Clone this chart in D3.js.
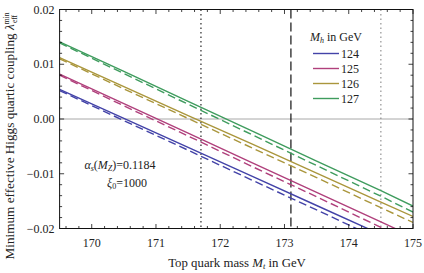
<!DOCTYPE html>
<html>
<head>
<meta charset="UTF-8">
<script src="https://d3js.org/d3.v7.min.js"></script>
<style>
  body { margin: 0; background: #fff; }
  text { font-family: "Liberation Serif", "DejaVu Serif", serif; font-size: 12px; fill: #222; }
  .title { font-size: 12.8px; }
</style>
</head>
<body>
<svg width="424" height="273"></svg>
<script>
// data
const mt = [169.5, 170.5, 171.5, 172.5, 173.5, 174.5, 175];
const higgsMasses = ["124", "125", "126", "127"];
const colors = ["#4343a8", "#b0407c", "#aa963c", "#3f9c5e"];
const solid = [
  [0.0054, 0.0001, -0.0052, -0.0105, -0.0158, -0.0211, -0.0238],
  [0.0082, 0.0028, -0.0026, -0.0080, -0.0134, -0.0188, -0.0215],
  [0.0112, 0.0059, 0.0006, -0.0046, -0.0099, -0.0152, -0.0178],
  [0.0141, 0.0087, 0.0032, -0.0022, -0.0077, -0.0131, -0.0159]
];
const dashed = [
  [0.0052, -0.0003, -0.0057, -0.0112, -0.0166, -0.0221, -0.0249],
  [0.0080, 0.0024, -0.0031, -0.0087, -0.0142, -0.0198, -0.0226],
  [0.0110, 0.0055, 0.0001, -0.0053, -0.0107, -0.0162, -0.0189],
  [0.0139, 0.0083, 0.0027, -0.0029, -0.0085, -0.0141, -0.0170]
];
const xTicks = [170, 171, 172, 173, 174, 175];
const yTicks = [0.02, 0.01, 0.00, -0.01, -0.02];
const vLines = [171.7, 173.1, 174.5];

const svg = d3.select("svg");
const pl = 59.6, pr = 413, pt = 9.5, pb = 228.5;

const x = d3.scaleLinear().domain([169.5, 175]).range([pl, pr]);
const y = d3.scaleLinear().domain([-0.02, 0.02]).range([pb, pt]);

const defs = svg.append("defs");
defs.append("clipPath").attr("id", "clip")
  .append("rect").attr("x", pl).attr("y", pt)
  .attr("width", pr - pl).attr("height", pb - pt);

const plot = svg.append("g").attr("clip-path", "url(#clip)");

// zero line
plot.append("line")
  .attr("x1", pl).attr("x2", pr)
  .attr("y1", y(0)).attr("y2", y(0))
  .attr("stroke", "#a8a8a8").attr("stroke-width", 1);

// vertical reference lines
plot.append("line")
  .attr("x1", x(vLines[0])).attr("x2", x(vLines[0]))
  .attr("y1", pt).attr("y2", pb)
  .attr("stroke", "#111").attr("stroke-width", 1.1)
  .attr("stroke-dasharray", "1.5,3");
plot.append("line")
  .attr("x1", x(vLines[1])).attr("x2", x(vLines[1]))
  .attr("y1", pt).attr("y2", pb)
  .attr("stroke", "#111").attr("stroke-width", 1.2)
  .attr("stroke-dasharray", "9,4");
plot.append("line")
  .attr("x1", x(vLines[2])).attr("x2", x(vLines[2]))
  .attr("y1", pt).attr("y2", pb)
  .attr("stroke", "#888").attr("stroke-width", 1.1)
  .attr("stroke-dasharray", "1.5,3");

const line = d3.line().x((d, i) => x(mt[i])).y(d => y(d));

higgsMasses.forEach((m, k) => {
  plot.append("path").datum(dashed[k])
    .attr("d", line).attr("fill", "none")
    .attr("stroke", colors[k]).attr("stroke-width", 1.4)
    .attr("stroke-dasharray", "8,4");
  plot.append("path").datum(solid[k])
    .attr("d", line).attr("fill", "none")
    .attr("stroke", colors[k]).attr("stroke-width", 1.4);
});

// frame
svg.append("rect")
  .attr("x", pl).attr("y", pt)
  .attr("width", pr - pl).attr("height", pb - pt)
  .attr("fill", "none").attr("stroke", "#111").attr("stroke-width", 1);

// ticks (inward, all four sides)
const xMinor = d3.range(169.6, 175.01, 0.2);
const yMinor = d3.range(-0.02, 0.02001, 0.002);
const tk = svg.append("g").attr("stroke", "#111").attr("stroke-width", 0.8);
xMinor.forEach(v => {
  const major = Math.abs(v - Math.round(v)) < 1e-6;
  const len = major ? 4.5 : 2.5;
  tk.append("line").attr("x1", x(v)).attr("x2", x(v)).attr("y1", pb).attr("y2", pb - len);
  tk.append("line").attr("x1", x(v)).attr("x2", x(v)).attr("y1", pt).attr("y2", pt + len);
});
yMinor.forEach(v => {
  const major = Math.abs(v * 100 - Math.round(v * 100)) < 1e-6;
  const len = major ? 4.5 : 2.5;
  tk.append("line").attr("y1", y(v)).attr("y2", y(v)).attr("x1", pl).attr("x2", pl + len);
  tk.append("line").attr("y1", y(v)).attr("y2", y(v)).attr("x1", pr).attr("x2", pr - len);
});

// tick labels
svg.append("g").selectAll("text").data(xTicks).join("text")
  .attr("x", d => x(d)).attr("y", pb + 18)
  .attr("text-anchor", "middle").text(d => d);
svg.append("g").selectAll("text").data(yTicks).join("text")
  .attr("x", pl - 5).attr("y", d => y(d) + 4)
  .attr("text-anchor", "end")
  .text(d => d3.format(".2f")(d).replace("-", "\u2212"));

// axis titles
const xt = svg.append("text").attr("class", "title").attr("x", 237).attr("y", 267).attr("text-anchor", "middle");
xt.append("tspan").text("Top quark mass ");
xt.append("tspan").attr("font-style", "italic").text("M");
xt.append("tspan").attr("font-style", "italic").attr("font-size", 8.5).attr("dy", 2).text("t");
xt.append("tspan").attr("dy", -2).text(" in GeV");

const yt = svg.append("text").attr("class", "title").attr("transform", "translate(14,136) rotate(-90)")
  .attr("text-anchor", "middle").style("font-size", "13.2px");
yt.append("tspan").text("Minimum effective Higgs quartic coupling ");
yt.append("tspan").attr("font-style", "italic").text("\u03bb");
yt.append("tspan").attr("font-size", 7.5).attr("dy", -5).text("min");
yt.append("tspan").attr("font-size", 7.5).attr("dx", -10.5).attr("dy", 8).text("eff");

// annotations
const a1 = svg.append("text").attr("x", 120).attr("y", 169).attr("text-anchor", "middle");
a1.append("tspan").attr("font-style", "italic").text("\u03b1");
a1.append("tspan").attr("font-style", "italic").attr("font-size", 8).attr("dy", 2).text("s");
a1.append("tspan").attr("dy", -2).text("(");
a1.append("tspan").attr("font-style", "italic").text("M");
a1.append("tspan").attr("font-style", "italic").attr("font-size", 8).attr("dy", 2).text("Z");
a1.append("tspan").attr("dy", -2).text(")=0.1184");
const a2 = svg.append("text").attr("x", 127).attr("y", 187).attr("text-anchor", "middle");
a2.append("tspan").attr("font-style", "italic").text("\u03be");
a2.append("tspan").attr("font-size", 8).attr("dy", 2).text("0");
a2.append("tspan").attr("dy", -2).text("=1000");

// legend
const lg = svg.append("g");
const lt = lg.append("text").attr("x", 336).attr("y", 41).attr("text-anchor", "middle");
lt.append("tspan").attr("font-style", "italic").text("M");
lt.append("tspan").attr("font-style", "italic").attr("font-size", 8).attr("dy", 2).text("h");
lt.append("tspan").attr("dy", -2).text(" in GeV");
higgsMasses.forEach((m, k) => {
  const yy = 53.5 + k * 15;
  lg.append("line").attr("x1", 313).attr("x2", 339).attr("y1", yy).attr("y2", yy)
    .attr("stroke", colors[k]).attr("stroke-width", 1.4);
  lg.append("text").attr("x", 341).attr("y", yy + 4).text(m);
});
</script>
</body>
</html>
